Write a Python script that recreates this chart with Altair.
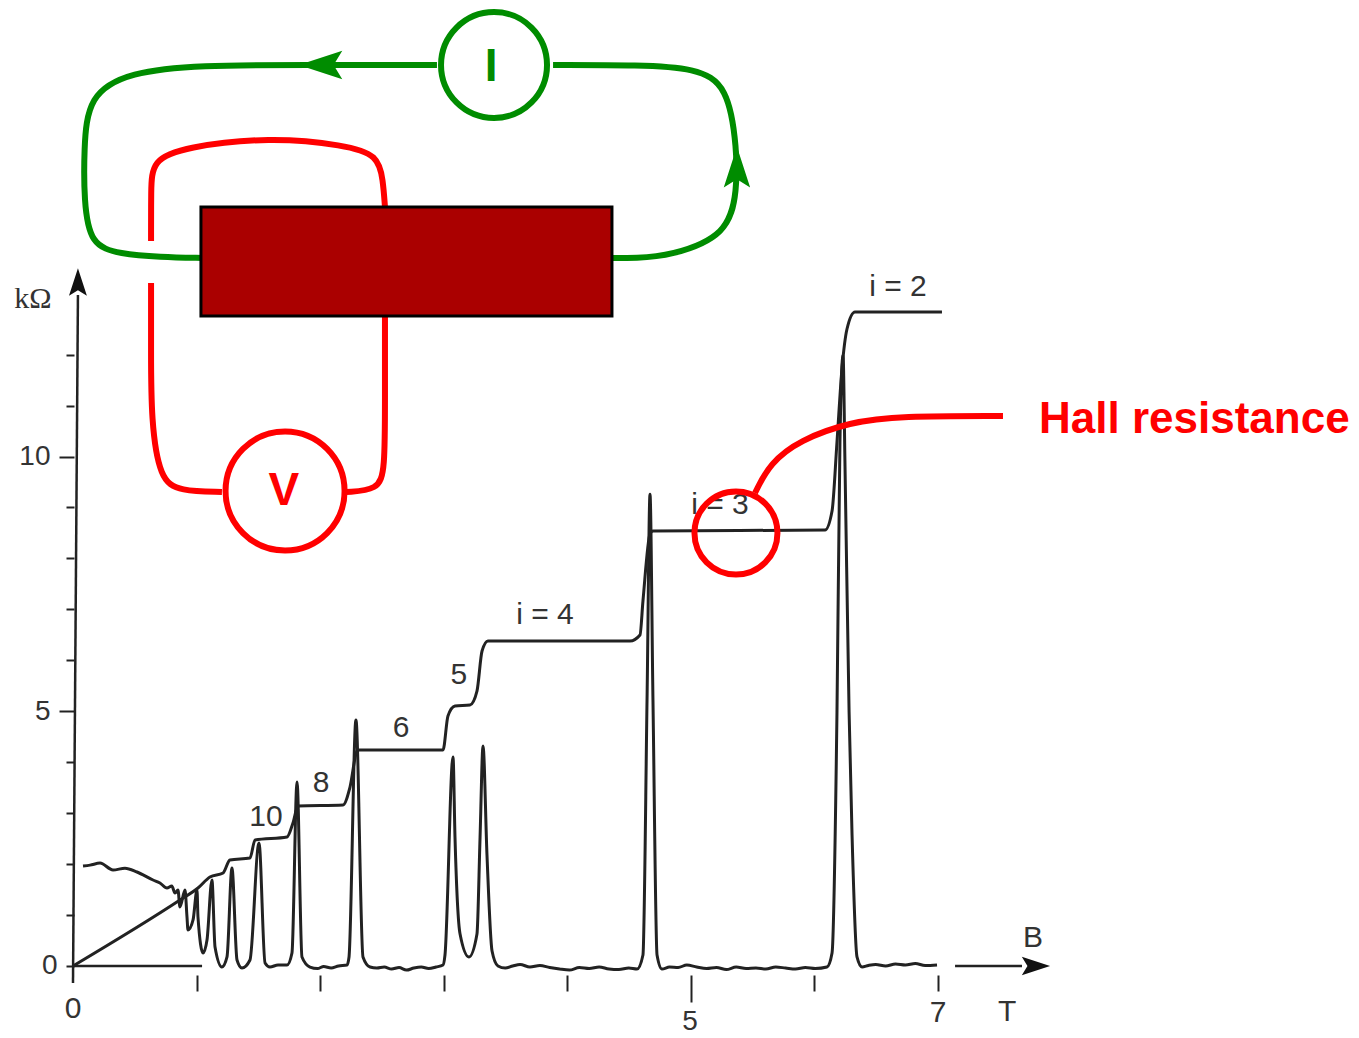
import altair as alt
import pandas as pd

# Hall resistance trace (B in T, R in kOhm)
hall_b = [0, 0.866, 1.012, 1.109, 1.215, 1.271, 1.433, 1.474, 1.733, 1.781, 1.822, 2.186, 2.243, 2.30, 2.32, 2.996,
          3.036, 3.093, 3.214, 3.271, 3.312, 3.36, 4.51, 4.591, 4.615, 4.672, 4.696, 6.089, 6.146, 6.186, 6.227, 6.267, 6.332, 7.036]
hall_r = [0, 1.295, 1.531, 1.747, 1.825, 2.08, 2.12, 2.473, 2.532, 2.807, 3.14, 3.16, 3.513, 4.22, 4.24, 4.24,
          4.907, 5.103, 5.123, 5.397, 6.182, 6.379, 6.379, 6.497, 7.164, 8.479, 8.538, 8.557, 8.93, 10.285, 11.737, 12.502, 12.836, 12.836]

# Longitudinal resistance trace
rxx_b = [0.081, 0.138, 0.219, 0.324, 0.421, 0.518, 0.648, 0.704, 0.761, 0.80, 0.826, 0.85, 0.866, 0.907, 0.923, 0.931, 0.972, 1.004,
         1.012, 1.053, 1.085, 1.125, 1.15, 1.206, 1.247, 1.287, 1.328, 1.368, 1.433, 1.506, 1.555, 1.595, 1.66, 1.733, 1.773, 1.814,
         1.854, 1.919, 1.98, 2.03, 2.09, 2.15, 2.219, 2.235, 2.291, 2.348, 2.405, 2.46, 2.52, 2.58, 2.64, 2.70, 2.76, 2.82, 2.88, 2.94, 2.996,
         3.012, 3.077, 3.093, 3.134, 3.206, 3.271, 3.296, 3.32, 3.352, 3.393, 3.441, 3.50, 3.56, 3.62, 3.70, 3.78, 3.86, 3.94, 4.02, 4.10, 4.18, 4.26, 4.34, 4.42, 4.50, 4.567,
         4.615, 4.648, 4.672, 4.696, 4.729, 4.769, 4.83, 4.90, 4.97, 5.05, 5.13, 5.21, 5.29, 5.37, 5.45, 5.53, 5.61, 5.69, 5.77, 5.85, 5.93, 6.01, 6.105,
         6.146, 6.186, 6.21, 6.235, 6.251, 6.284, 6.308, 6.348, 6.389, 6.44, 6.50, 6.58, 6.66, 6.74, 6.82, 6.90, 6.996]
rxx_r = [1.963, 1.98, 2.02, 1.884, 1.92, 1.845, 1.688, 1.63, 1.531, 1.57, 1.433, 1.49, 1.158, 1.49, 0.962, 0.707, 0.903, 1.49,
         0.962, 0.255, 0.51, 1.688, 0.373, -0.02, 0.177, 1.924, 0.118, -0.04, 0.118, 2.414, 0.059, -0.02, 0.02, 0.02, 0.255, 3.611,
         0.177, -0.02, -0.05, -0.01, -0.04, 0.0, 0.02, 0.177, 4.828, 0.177, -0.02, -0.04, -0.02, -0.06, -0.03, -0.08, -0.04, -0.02, -0.05, -0.02, 0.02,
         0.216, 4.103, 2.53, 0.628, 0.177, 0.628, 2.53, 4.318, 2.18, 0.294, 0.0, -0.04, 0.0, 0.03, -0.02, 0.01, -0.03, -0.06, -0.08, -0.03, -0.05, -0.02, -0.06, -0.07, -0.04, -0.06,
         0.216, 5.22, 9.26, 5.22, 0.216, -0.06, -0.02, -0.03, 0.02, -0.02, -0.05, -0.03, -0.07, -0.02, -0.05, -0.04, -0.06, -0.02, -0.04, -0.06, -0.03, -0.05, -0.02,
         0.255, 4.985, 10.285, 11.99, 9.81, 4.985, 2.57, 0.177, -0.02, 0.01, 0.03, 0.0, 0.04, 0.02, 0.05, 0.01, 0.02]

zero_b = [0, 1.045]
zero_r = [0, 0]
yaxis_b = [0, 0.04]
yaxis_r = [-0.334, 13.17]
xarrow_b = [7.142, 7.684]
xarrow_r = [0, 0]

# Circuit sketch, placed on the same axes
green_left_b = [1.053, 0.704, 0.381, 0.138, 0.089, 0.089, 0.121, 0.462, 1.028, 1.862, 2.947]
green_left_r = [13.896, 13.916, 13.975, 14.151, 15.034, 16.016, 17.095, 17.547, 17.684, 17.684, 17.684]
green_right_b = [3.887, 4.591, 5.036, 5.304, 5.376, 5.376, 5.304, 4.834, 4.551, 4.364]
green_right_r = [17.684, 17.684, 17.625, 17.291, 16.016, 15.23, 14.347, 13.935, 13.896, 13.896]
red_top_b = [0.632, 0.632, 0.64, 0.907, 1.595, 2.202, 2.47, 2.51, 2.526]
red_top_r = [14.23, 15.23, 15.819, 16.075, 16.271, 16.114, 15.917, 15.427, 14.897]
red_ll_b = [0.632, 0.632, 0.632, 0.704, 0.866, 1.206]
red_ll_r = [13.405, 12.09, 10.716, 9.539, 9.323, 9.303]
red_lr_b = [2.526, 2.526, 2.526, 2.47, 2.21]
red_lr_r = [12.758, 11.109, 9.735, 9.343, 9.303]
leader_b = [5.522, 5.644, 5.886, 6.291, 6.696, 7.53]
leader_r = [9.284, 9.873, 10.324, 10.677, 10.795, 10.795]

sample_b = [1.036, 4.364]
sample_r = [14.897, 12.758]

GREEN = "#008C00"
RED = "#FF0000"
INK = "#222222"
DARKRED = "#AA0000"
SERIF = "Liberation Serif"
SANS = "Liberation Sans"

W, H = 1343, 1028
xscale = alt.Scale(domain=[-0.5263, 10.348], nice=False, zero=False)
yscale = alt.Scale(domain=[-1.374, 18.803], nice=False, zero=False)

X = alt.X("b:Q", scale=xscale, title=None, axis=alt.Axis(
    values=[1, 2, 3, 4, 5, 6, 7], labels=False, domain=False, grid=False, offset=-61,
    tickColor=INK, tickWidth=2,
    tickSize={"condition": {"test": "datum.value === 5", "value": 27}, "value": 16}))
Y = alt.Y("r:Q", scale=yscale, title=None, axis=alt.Axis(
    values=list(range(0, 13)), domain=False, grid=False, offset=-66,
    tickColor=INK, tickWidth=2,
    tickSize={"condition": {"test": "datum.value === 5 || datum.value === 10", "value": 15}, "value": 8},
    labelExpr="datum.value % 5 === 0 ? datum.label : ''",
    labelFont=SANS, labelFontSize=28, labelColor="#333333", labelPadding=9))


def frame(bs, rs):
    return pd.DataFrame({"b": bs, "r": rs, "i": range(len(bs))})


def wire(bs, rs, color, width, interp="basis"):
    return alt.Chart(frame(bs, rs)).mark_line(
        color=color, strokeWidth=width, interpolate=interp, strokeCap="butt"
    ).encode(x=X, y=Y, order=alt.Order("i:Q"))


def labels(items, font, size, color, weight="normal", align="center"):
    df = pd.DataFrame(items, columns=["t", "b", "r"])
    return alt.Chart(df).mark_text(
        font=font, fontSize=size, color=color, fontWeight=weight, align=align, baseline="middle"
    ).encode(x=X, y=Y, text="t:N")


def ring(b, r, size, color):
    return alt.Chart(frame([b], [r])).mark_point(
        shape="circle", filled=False, size=size, color=color, strokeWidth=6, opacity=1
    ).encode(x=X, y=Y)


ARROW = "M1,0 L-1,-0.65 L-0.6,0 L-1,0.65 Z"


def head(b, r, size, color, angle):
    return alt.Chart(frame([b], [r])).mark_point(
        shape=ARROW, filled=True, size=size, color=color, angle=angle, opacity=1, strokeWidth=0
    ).encode(x=X, y=Y)


chart = alt.layer(
    wire(zero_b, zero_r, INK, 2.5, "linear"),
    wire(yaxis_b, yaxis_r, INK, 2.5, "linear"),
    head(0.04, 13.425, 760, "#111111", 270),
    wire(xarrow_b, xarrow_r, INK, 2.5, "linear"),
    head(7.797, 0, 800, "#111111", 0),
    wire(rxx_b, rxx_r, INK, 3, "monotone"),
    wire(hall_b, hall_r, INK, 3, "monotone"),
    labels([("i = 2", 6.68, 13.327), ("i = 3", 5.239, 9.048), ("i = 4", 3.822, 6.889),
            ("5", 3.125, 5.711), ("6", 2.656, 4.671), ("8", 2.008, 3.592), ("10", 1.563, 2.924),
            ("B", 7.773, 0.55), ("T", 7.563, -0.903), ("0", 0, -0.844), ("7", 7.004, -0.922)],
           SANS, 30, "#333333"),
    labels([("5", 4.996, -1.099)], SANS, 28, "#333333"),
    labels([("kΩ", -0.324, 13.09)], SERIF, 30, "#333333"),
    wire(green_left_b, green_left_r, GREEN, 6),
    wire(green_right_b, green_right_r, GREEN, 6),
    head(2.004, 17.684, 1900, GREEN, 180),
    head(5.376, 15.68, 1650, GREEN, 270),
    wire(red_top_b, red_top_r, RED, 6),
    wire(red_ll_b, red_ll_r, RED, 6),
    wire(red_lr_b, red_lr_r, RED, 6),
    alt.Chart(pd.DataFrame({"b": [sample_b[0]], "b2": [sample_b[1]], "r": [sample_r[0]], "r2": [sample_r[1]]})).mark_rect(
        fill=DARKRED, stroke="black", strokeWidth=3
    ).encode(x=X, x2="b2:Q", y=Y, y2="r2:Q"),
    ring(3.409, 17.684, 11236, GREEN),
    ring(1.717, 9.323, 14161, RED),
    ring(5.368, 8.498, 6889, RED),
    wire(leader_b, leader_r, RED, 6),
    labels([("Hall resistance", 7.822, 10.72)], SANS, 44, RED, "bold", "left"),
    labels([("V", 1.708, 9.323)], SANS, 46, RED, "bold"),
    labels([("I", 3.385, 17.645)], SANS, 46, GREEN, "bold"),
).properties(width=W, height=H, padding=0, autosize=alt.AutoSizeParams(type="none")).configure_view(stroke=None)

chart.save("out.html", embed_options={"renderer": "svg", "actions": False})
